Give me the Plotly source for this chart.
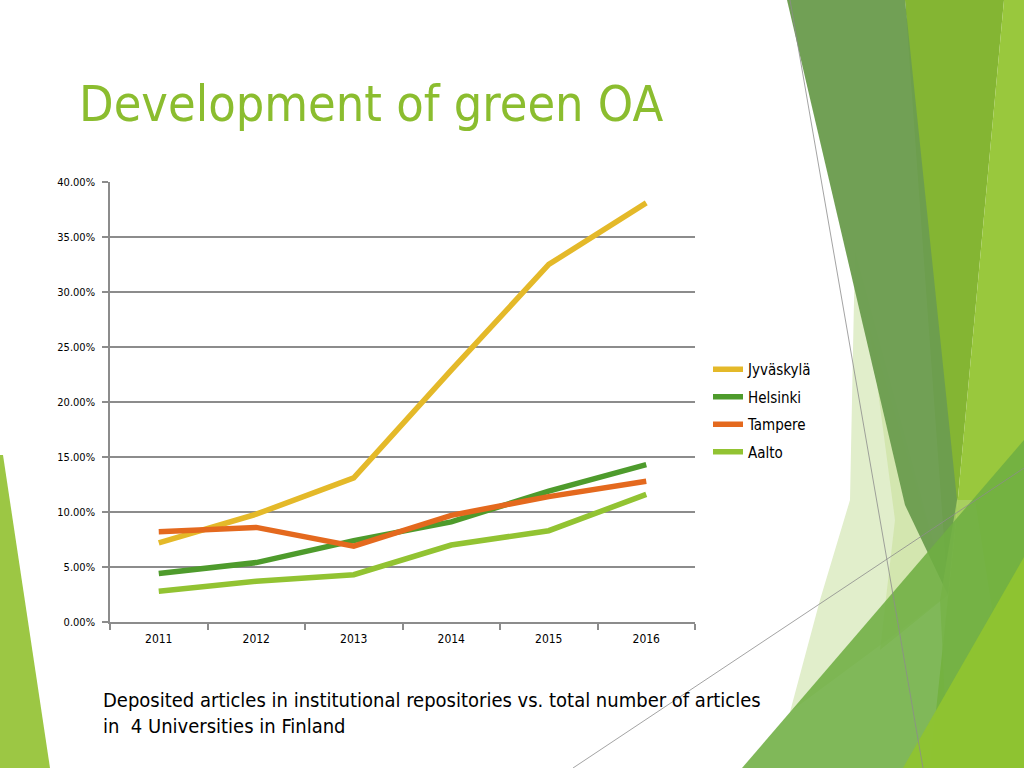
import plotly.graph_objects as go

years = ["2011", "2012", "2013", "2014", "2015", "2016"]
jyvaskyla = [7.2, 9.8, 13.1, 22.9, 32.5, 38.1]
helsinki = [4.4, 5.4, 7.4, 9.1, 11.9, 14.3]
tampere = [8.2, 8.6, 6.9, 9.7, 11.4, 12.8]
aalto = [2.8, 3.7, 4.3, 7.0, 8.3, 11.6]
series_names = ["Jyväskylä", "Helsinki", "Tampere", "Aalto"]
series_values = [jyvaskyla, helsinki, tampere, aalto]
series_colors = ["#E4B929", "#4E9B2C", "#E4691E", "#92C332"]
y_ticks = [0, 5, 10, 15, 20, 25, 30, 35, 40]
y_tick_labels = [f"{v:.2f}%" for v in y_ticks]

title_text = "Development of green OA"
caption_text = "Deposited articles in institutional repositories vs. total number of articles<br>in  4 Universities in Finland"

W, H = 1024, 768
FONT = "DejaVu Sans Condensed, Liberation Sans Narrow, sans-serif"

fig = go.Figure()
for i, (name, vals, col) in enumerate(zip(series_names, series_values, series_colors)):
    fig.add_trace(go.Scatter(
        x=years, y=vals, name=name, mode="lines",
        line=dict(color=col, width=5.5),
        legendgroup=f"g{i}",
    ))


def px_path(pts):
    s = ""
    for k, (x, y) in enumerate(pts):
        s += ("M" if k == 0 else "L") + f"{x / W:.5f},{1 - y / H:.5f} "
    return s + "Z"


deco = [
    # left strip
    ([(0, 455), (3, 455), (50, 768), (0, 768)], "#9CC744", 1.0),
    # pale region left of the dark band
    ([(855, 250), (948, 595), (790, 712), (820, 600), (850, 500)], "#E1EECB", 1.0),
    ([(870, 330), (948, 595), (880, 650), (895, 520)], "#CFE4A8", 0.8),
    # medium green band top right
    ([(905, 0), (1004, 0), (955, 530), (948, 595)], "#84B533", 1.0),
    # bright strip far right
    ([(1004, 0), (1024, 0), (1024, 768), (930, 768), (955, 530)], "#99C83D", 1.0),
    # dark green band
    ([(787, 0), (905, 0), (957, 500), (948, 595), (905, 505)], "#6C9D4F", 0.97),
    # light stripe bottom right
    ([(957, 500), (975, 500), (993, 615), (945, 700), (940, 600)], "#AAD168", 0.8),
    # bottom green triangle
    ([(742, 768), (1024, 440), (1024, 768)], "#6EAE42", 0.88),
    # yellow-green corner
    ([(903, 768), (1024, 557), (1024, 768)], "#8EC331", 0.97),
]

shapes = []
for pts, col, op in deco:
    shapes.append(dict(type="path", path=px_path(pts), xref="paper", yref="paper",
                       fillcolor=col, opacity=op, line=dict(width=0), layer="below"))
# thin grey lines
for (x0, y0, x1, y1) in [(790, 0, 923, 768), (573, 768, 1024, 468)]:
    shapes.append(dict(type="line", xref="paper", yref="paper",
                       x0=x0 / W, y0=1 - y0 / H, x1=x1 / W, y1=1 - y1 / H,
                       line=dict(color="rgba(140,140,140,0.8)", width=1), layer="below"))

fig.update_layout(
    width=W, height=H, autosize=False,
    margin=dict(l=0, r=0, t=0, b=0, pad=0, autoexpand=False),
    paper_bgcolor="white", plot_bgcolor="rgba(0,0,0,0)",
    font=dict(family=FONT, color="#000000"),
    shapes=shapes,
    showlegend=True,
    legend=dict(
        x=708 / W, y=1 - 353 / H, xanchor="left", yanchor="top",
        bgcolor="rgba(0,0,0,0)", font=dict(size=15, color="#000000"),
        traceorder="grouped", tracegroupgap=5, itemwidth=30,
    ),
    xaxis=dict(
        domain=[110 / W, 695 / W], type="category", range=[-0.5, 5.5],
        showgrid=False, showline=True, linecolor="#8C8C8C", linewidth=1.5,
        ticks="outside", ticklen=6, tickcolor="#8C8C8C", tickwidth=1.5,
        tickson="boundaries", tickfont=dict(size=12, color="#000000"),
        ticklabelstandoff=5,
        zeroline=False, fixedrange=True, automargin=False,
    ),
    yaxis=dict(
        domain=[1 - 622 / H, 1 - 182 / H], range=[0, 40],
        tickvals=y_ticks, ticktext=y_tick_labels,
        showgrid=True, gridcolor="#8C8C8C", gridwidth=1.5,
        showline=True, linecolor="#8C8C8C", linewidth=1.5,
        ticks="outside", ticklen=6, tickcolor="#8C8C8C", tickwidth=1.5,
        tickfont=dict(size=11, color="#000000"),
        ticklabelstandoff=5,
        zeroline=False, fixedrange=True, automargin=False,
    ),
    annotations=[
        dict(text=title_text, xref="paper", yref="paper", x=77 / W, y=1 - 135 / H,
             xanchor="left", yanchor="bottom", showarrow=False,
             font=dict(size=50, color="#8BBD2F", family=FONT)),
        dict(text=caption_text, xref="paper", yref="paper", x=101 / W, y=1 - 686 / H,
             xanchor="left", yanchor="top", align="left", showarrow=False,
             font=dict(size=20, color="#000000", family=FONT)),
    ],
)

fig.write_html("out.html", config={"displayModeBar": False},
               post_script="document.body.style.margin='0';document.body.style.overflow='hidden';")
